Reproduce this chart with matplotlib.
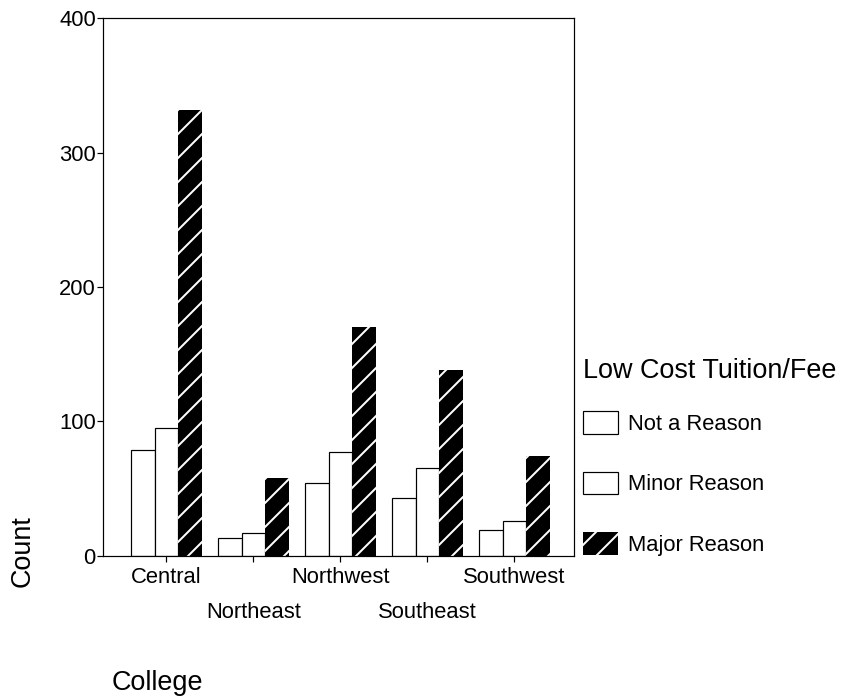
import matplotlib.pyplot as plt
import numpy as np

# Data ------------------------------------------------------------
colleges = ["Central", "Northeast", "Northwest", "Southeast", "Southwest"]
not_a_reason = [79, 13, 54, 43, 19]
minor_reason = [95, 17, 77, 65, 26]
major_reason = [332, 58, 170, 138, 74]
series_names = ["Not a Reason", "Minor Reason", "Major Reason"]
y_ticks = [0, 100, 200, 300, 400]

# Style -----------------------------------------------------------
plt.rcParams['font.family'] = ['Liberation Sans', 'DejaVu Sans']
plt.rcParams['hatch.linewidth'] = 2.0

dpi = 72
fig = plt.figure(figsize=(851 / dpi, 698 / dpi), dpi=dpi)
ax = fig.add_axes([0.1214, 0.2039, 0.5535, 0.7696])

x = np.arange(len(colleges))
w = 0.27

b1 = ax.bar(x - w, not_a_reason, w, facecolor="white", edgecolor="black", linewidth=1.2)
b2 = ax.bar(x, minor_reason, w, facecolor="white", edgecolor="black", linewidth=1.2)
b3 = ax.bar(x + w, major_reason, w, facecolor="black", edgecolor="white", linewidth=0, hatch="/")

ax.set_xlim(-0.725, 4.69)
ax.set_ylim(0, 400)
ax.set_yticks(y_ticks)
ax.set_xticks(x)
ax.set_xticklabels(colleges)

for s in ax.spines.values():
    s.set_linewidth(1.2)

ax.tick_params(axis="both", labelsize=22, length=6, width=1.2, direction="out")
ax.tick_params(axis="x", pad=5)
ax.tick_params(axis="y", pad=1.5)

# staggered category labels
for i, t in enumerate(ax.xaxis.get_major_ticks()):
    if i % 2 == 1:
        t.set_pad(40)

ax.set_ylabel("Count", fontsize=27)
ax.yaxis.label.set_va("center")
ax.yaxis.set_label_coords(-0.172, 0.008)
ax.set_xlabel("College", fontsize=27)
ax.xaxis.label.set_va("center")
ax.xaxis.set_label_coords(0.114, -0.237)

leg = fig.legend([b1, b2, b3], series_names, title="Low Cost Tuition/Fee",
                 loc="upper left", bbox_to_anchor=(583 / 851, 1 - 358 / 698),
                 frameon=False, fontsize=22, title_fontsize=27, alignment="left",
                 handlelength=1.6, handleheight=1.2, handletextpad=0.45,
                 labelspacing=1.68, borderpad=0, borderaxespad=0)
leg._legend_box.sep = 27

fig.savefig("out.png", dpi=dpi)
